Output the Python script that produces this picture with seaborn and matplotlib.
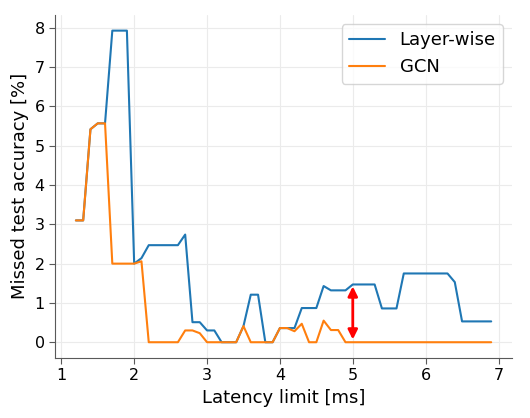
import numpy as np
import pandas as pd
import matplotlib
matplotlib.use("Agg")
import matplotlib.pyplot as plt
import seaborn as sns

# latency limits (ms), sampled every 0.1 ms from 1.2 to 6.9
latency = [1.2, 1.3, 1.4, 1.5, 1.6, 1.7, 1.8, 1.9, 2.0, 2.1,
           2.2, 2.3, 2.4, 2.5, 2.6, 2.7, 2.8, 2.9, 3.0, 3.1,
           3.2, 3.3, 3.4, 3.5, 3.6, 3.7, 3.8, 3.9, 4.0, 4.1,
           4.2, 4.3, 4.4, 4.5, 4.6, 4.7, 4.8, 4.9, 5.0, 5.1,
           5.2, 5.3, 5.4, 5.5, 5.6, 5.7, 5.8, 5.9, 6.0, 6.1,
           6.2, 6.3, 6.4, 6.5, 6.6, 6.7, 6.8, 6.9]

layer_wise = [3.10, 3.10, 5.42, 5.57, 5.57, 7.93, 7.93, 7.93, 2.00, 2.14,
              2.47, 2.47, 2.47, 2.47, 2.47, 2.74, 0.51, 0.51, 0.30, 0.30,
              0.00, 0.00, 0.00, 0.41, 1.21, 1.21, 0.00, 0.00, 0.36, 0.36,
              0.36, 0.87, 0.87, 0.87, 1.43, 1.32, 1.32, 1.32, 1.47, 1.47,
              1.47, 1.47, 0.86, 0.86, 0.86, 1.75, 1.75, 1.75, 1.75, 1.75,
              1.75, 1.75, 1.53, 0.53, 0.53, 0.53, 0.53, 0.53]

gcn = [3.10, 3.10, 5.42, 5.57, 5.57, 2.00, 2.00, 2.00, 2.00, 2.06,
       0.00, 0.00, 0.00, 0.00, 0.00, 0.30, 0.30, 0.23, 0.00, 0.00,
       0.00, 0.00, 0.00, 0.41, 0.00, 0.00, 0.00, 0.00, 0.36, 0.36,
       0.28, 0.47, 0.00, 0.00, 0.55, 0.31, 0.31, 0.00, 0.00, 0.00,
       0.00, 0.00, 0.00, 0.00, 0.00, 0.00, 0.00, 0.00, 0.00, 0.00,
       0.00, 0.00, 0.00, 0.00, 0.00, 0.00, 0.00, 0.00]

methods = ["Layer-wise", "GCN"]
colors = ["#1f77b4", "#ff7f0e"]

df = pd.DataFrame({
    "latency": latency * 2,
    "missed": layer_wise + gcn,
    "method": [methods[0]] * len(latency) + [methods[1]] * len(latency),
})

sns.set_style("whitegrid", {
    "axes.edgecolor": "0.35",
    "grid.color": "0.92",
    "xtick.bottom": True,
    "ytick.left": True,
    "text.color": "black",
    "axes.labelcolor": "black",
    "xtick.color": "black",
    "ytick.color": "black",
})
plt.rcParams["font.family"] = ["DejaVu Sans"]

fig, ax = plt.subplots(figsize=(5.3, 4.18), dpi=100)
fig.subplots_adjust(left=0.104, right=0.966, top=0.964, bottom=0.144)

sns.lineplot(data=df, x="latency", y="missed", hue="method",
             palette=colors, linewidth=1.5, ax=ax)

# gap between the two methods at 5 ms
ax.annotate("", xy=(5, 1.42), xytext=(5, 0.07),
            arrowprops=dict(arrowstyle="<|-|>", color="red", lw=2,
                            mutation_scale=14, shrinkA=0, shrinkB=0))

ax.set_xlabel("Latency limit [ms]", fontsize=13)
ax.set_ylabel("Missed test accuracy [%]", fontsize=13)
ax.tick_params(axis="both", labelsize=11.5, length=4, color="0.35")
ax.set_xticks([1, 2, 3, 4, 5, 6, 7])
ax.set_yticks([0, 1, 2, 3, 4, 5, 6, 7, 8])
ax.legend(title=None, fontsize=13, loc="upper right", handlelength=2.0)
sns.despine(ax=ax)

plt.savefig("out.png", dpi=100)
